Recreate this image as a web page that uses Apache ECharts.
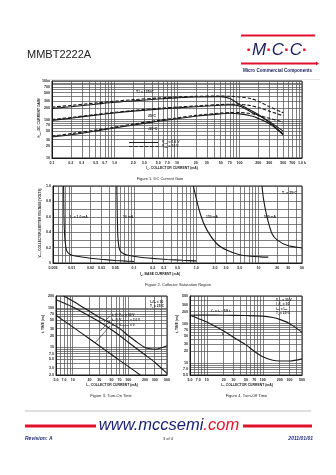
<!DOCTYPE html>
<html>
<head>
<meta charset="utf-8">
<style>
html,body{margin:0;padding:0;background:#fff}
#c{width:336px;height:475px}
</style>
<script src="https://cdn.jsdelivr.net/npm/echarts@6/dist/echarts.min.js"></script>
</head>
<body>
<div id="c"></div>
<script>
// ---------- Figure 1: DC current gain (hFE vs IC) ----------
const gainCurrent = [0.1, 0.2, 0.5, 1, 2, 5, 10, 20, 50, 70, 100, 150, 200, 300, 500];
const gain125Vce1  = [195, 215, 250, 280, 305, 340, 365, 385, 392, 350, 245, 175, 135, 85, 42];
const gain125Vce10 = [210, 232, 268, 298, 328, 362, 385, 400, 405, 400, 385, 350, 300, 215, 150];
const gain25Vce1   = [95, 108, 130, 148, 165, 185, 200, 215, 235, 240, 225, 160, 128, 88, 50];
const gain25Vce10  = [100, 113, 135, 153, 172, 195, 210, 225, 245, 250, 248, 230, 205, 165, 125];
const gainM55Vce1  = [35, 40, 50, 60, 72, 90, 105, 122, 140, 145, 140, 125, 107, 78, 40];
const gainM55Vce10 = [37, 43, 53, 63, 76, 95, 110, 128, 147, 152, 152, 142, 128, 108, 85];
const fig1XTicks = [0.1, 0.2, 0.3, 0.5, 0.7, 1, 2, 3, 5, 7, 10, 20, 30, 50, 70, 100, 200, 300, 500, 700, 1000];
const fig1XText  = ['0.1','0.2','0.3','0.5','0.7','1.0','2.0','3.0','5.0','7.0','10','20','30','50','70','100','200','300','500','700','1.0 k'];
const fig1YTicks = [10, 20, 30, 50, 70, 100, 200, 300, 500, 700, 1000];
const fig1YText  = ['10','20','30','50','70','100','200','300','500','700','1000'];

// ---------- Figure 2: collector saturation region (VCE vs IB) ----------
const sat1mA_IB   = [0.0074, 0.0075, 0.0077, 0.008, 0.0084, 0.0095, 0.012, 0.02, 0.029, 0.05, 0.077, 0.1];
const sat1mA_VCE  = [1.0, 0.6, 0.35, 0.22, 0.15, 0.11, 0.087, 0.062, 0.048, 0.033, 0.024, 0.02];
const sat10mA_IB  = [0.053, 0.054, 0.055, 0.057, 0.06, 0.068, 0.08, 0.126, 0.2, 0.34, 0.6, 1.0];
const sat10mA_VCE = [1.0, 0.6, 0.35, 0.22, 0.16, 0.12, 0.1, 0.075, 0.06, 0.046, 0.035, 0.027];
const sat150mA_IB  = [0.9, 1.16, 1.48, 2.14, 3.12, 5.1, 7.5, 10.7, 14.4];
const sat150mA_VCE = [1.0, 0.64, 0.43, 0.25, 0.165, 0.105, 0.088, 0.08, 0.076];
const sat500mA_IB  = [11.4, 12.1, 13.7, 16.5, 19.9, 28.7, 50];
const sat500mA_VCE = [1.0, 0.82, 0.6, 0.38, 0.3, 0.23, 0.195];
const fig2XTicks = [0.005, 0.01, 0.02, 0.03, 0.05, 0.1, 0.2, 0.3, 0.5, 1, 2, 3, 5, 10, 20, 30, 50];
const fig2XText  = ['0.005','0.01','0.02','0.03','0.05','0.1','0.2','0.3','0.5','1.0','2.0','3.0','5.0','10','20','30','50'];
const fig2YTicks = [0, 0.2, 0.4, 0.6, 0.8, 1.0];
const fig2YText  = ['0','0.2','0.4','0.6','0.8','1.0'];

// ---------- Figure 3: turn-on time ----------
const trIC   = [6.8, 10, 20, 30, 50, 70, 100, 150, 200, 250, 300, 400, 500];
const trTime = [200, 150, 82, 58, 40, 30, 20, 13, 10, 9.2, 9.0, 9.8, 11];
const td2IC   = [5, 10, 20, 30, 50, 70, 100, 200, 300, 500];
const td2Time = [160, 105, 62, 45, 28, 20, 13.5, 6.5, 4.2, 2.2];
const td0IC   = [5, 10, 20, 30, 50, 70, 100, 165];
const td0Time = [65, 33, 16.5, 11, 6.6, 4.7, 3.3, 2.0];
const fig3XTicks = [5, 7, 10, 20, 30, 50, 70, 100, 200, 300, 500];
const fig3XText  = ['5.0','7.0','10','20','30','50','70','100','200','300','500'];
const fig3YTicks = [2, 3, 5, 7, 10, 20, 30, 50, 70, 100, 200];
const fig3YText  = ['2.0','3.0','5.0','7.0','10','20','30','50','70','100','200'];

// ---------- Figure 4: turn-off time ----------
const tsIC   = [5, 10, 20, 50, 100, 150, 200, 300, 500];
const tsTime = [163, 164, 163, 160, 155, 143, 128, 100, 60];
const tfIC   = [5, 7, 10, 20, 30, 50, 70, 100, 150, 200, 300, 500];
const tfTime = [163, 135, 110, 65, 45, 29, 20, 14.5, 11.8, 11.3, 11.3, 12.8];
const fig4XTicks = [5, 7, 10, 20, 30, 50, 70, 100, 200, 300, 500];
const fig4XText  = ['5.0','7.0','10','20','30','50','70','100','200','300','500'];
const fig4YTicks = [5, 7, 10, 20, 30, 50, 70, 100, 200, 300, 500];
const fig4YText  = ['5.0','7.0','10','20','30','50','70','100','200','300','500'];

// ---------- styling helpers ----------
const FONT = '"Liberation Sans", Arial, sans-serif';
const INK = '#1b1b1b';
const GRID = '#555555';
const NAVY = '#1f2a7c';
const RED = '#e3122c';
const TICK_FS = 3.6;

// 1..9 x 10^n grid values inside [lo, hi]
function logGridValues(lo, hi) {
  const out = [];
  for (let e = -4; e <= 4; e++) {
    for (let m = 1; m < 10; m++) {
      const v = +(m * Math.pow(10, e)).toPrecision(6);
      if (v >= lo * 0.9999 && v <= hi * 1.0001) out.push(v);
    }
  }
  return out;
}
// labelled values get their text, the remaining grid positions stay blank
function labelFormatter(vals, texts) {
  return function (v) {
    for (let i = 0; i < vals.length; i++) {
      const t = vals[i];
      if (Math.abs(v - t) <= 1e-6 * Math.max(Math.abs(t), 1e-3)) return texts[i];
    }
    return '';
  };
}
function logAxis(gi, min, max, ticks, texts, isY) {
  const gridVals = logGridValues(min, max);
  return {
    type: 'log', logBase: 10, gridIndex: gi, min: min, max: max,
    axisLine: { show: true, onZero: false, lineStyle: { color: INK, width: 1 } },
    axisTick: { show: false, customValues: gridVals },
    splitLine: { show: true, lineStyle: { color: GRID, width: 0.75 } },
    axisLabel: {
      customValues: gridVals, formatter: labelFormatter(ticks, texts),
      fontSize: TICK_FS, fontFamily: FONT, fontWeight: 'bold', color: INK,
      margin: isY ? 2 : 3, hideOverlap: false
    }
  };
}
function pairs(xs, ys) { return xs.map(function (x, i) { return [x, ys[i]]; }); }
function curve(gi, xs, ys, dashed, smooth) {
  return {
    type: 'line', xAxisIndex: gi, yAxisIndex: gi, data: pairs(xs, ys),
    showSymbol: false, symbol: 'none', smooth: smooth == null ? 0.3 : smooth,
    silent: true, animation: false, clip: true,
    lineStyle: { color: INK, width: 1.1, type: dashed ? [3.5, 1.8] : 'solid' }
  };
}

// text with subscripts written as X_{sub}
function richText(str, size, weight, color, style) {
  const parts = [];
  const re = /_\{([^}]*)\}/g;
  let last = 0, m;
  while ((m = re.exec(str))) {
    if (m.index > last) parts.push('{n|' + str.slice(last, m.index) + '}');
    parts.push('{s|' + m[1] + '}');
    last = re.lastIndex;
  }
  if (last < str.length) parts.push('{n|' + str.slice(last) + '}');
  const base = { fontSize: size, fontFamily: FONT, fontWeight: weight || 'bold', fill: color || INK, fontStyle: style || 'normal' };
  return {
    text: parts.join(''),
    rich: {
      n: Object.assign({}, base),
      s: Object.assign({}, base, { fontSize: size * 0.72, padding: [size * 0.45, 0, 0, 0] })
    },
    fontSize: size, fontFamily: FONT, fontWeight: weight || 'bold', fill: color || INK
  };
}
function txt(x, y, str, opt) {
  opt = opt || {};
  const st = richText(str, opt.size || 3.6, opt.weight, opt.color, opt.style);
  st.align = opt.align || 'left';
  st.verticalAlign = 'middle';
  return { type: 'text', x: x, y: y, rotation: opt.rot || 0, silent: true, style: st, z: 10 };
}
function seg(x1, y1, x2, y2, color, w, dash) {
  return { type: 'line', silent: true, z: 10,
    shape: { x1: x1, y1: y1, x2: x2, y2: y2 },
    style: { stroke: color || INK, lineWidth: w || 1, lineDash: dash || null } };
}

const chart = echarts.init(document.getElementById('c'), null, { renderer: 'canvas' });

const grids = [
  { left: 52, top: 81, width: 250, height: 77 },
  { left: 53, top: 186, width: 249, height: 77 },
  { left: 56, top: 296, width: 111, height: 79 },
  { left: 190, top: 296, width: 112, height: 79 }
].map(function (g) { return Object.assign({ show: true, borderColor: INK, borderWidth: 1, backgroundColor: '#fff' }, g); });

const fig2YGrid = [0, 0.1, 0.2, 0.3, 0.4, 0.5, 0.6, 0.7, 0.8, 0.9, 1.0];
const fig2Y = {
  type: 'value', gridIndex: 1, min: 0, max: 1, interval: 0.1,
  axisLine: { show: true, onZero: false, lineStyle: { color: INK, width: 1 } },
  axisTick: { show: false, customValues: fig2YGrid },
  splitLine: { show: true, lineStyle: { color: GRID, width: 0.75 } },
  axisLabel: { customValues: fig2YGrid, formatter: labelFormatter(fig2YTicks, fig2YText),
    fontSize: TICK_FS, fontFamily: FONT, fontWeight: 'bold', color: INK, margin: 2 }
};

const graphics = [
  // header
  txt(27, 55, 'MMBT2222A', { size: 11, weight: 'normal', color: '#222' }),
  seg(241, 35.5, 315, 35.5, RED, 2.2),
  { type: 'text', x: 277, y: 50, silent: true, style: {
      text: '{d|·}{l|M}{d|·}{l|C}{d|·}{l|C}{d|·}', align: 'center', verticalAlign: 'middle',
      rich: {
        l: { fontSize: 17, fontFamily: FONT, fontStyle: 'italic', fill: '#1a1f5e' },
        d: { fontSize: 17, fontFamily: FONT, fontWeight: 'bold', fill: RED }
      } } },
  seg(241, 63.5, 316, 63.5, RED, 2.2),
  { type: 'polygon', silent: true, shape: { points: [[316, 61.5], [319, 63.5], [316, 65.5]] }, style: { fill: RED } },
  txt(277.5, 70.5, 'Micro Commercial Components', { size: 4.6, align: 'center', color: '#1a1f5e' }),
  seg(47, 79.5, 320, 79.5, '#e6e6e6', 1),

  // figure 1 annotations
  txt(136, 91.5, 'T_{J} = 125°C', { size: 3.6 }),
  txt(148, 115.5, '25°C', { size: 3.6 }),
  txt(148, 128.5, '-55°C', { size: 3.6 }),
  seg(129, 142.5, 158, 142.5, INK, 1),
  seg(129, 146.5, 158, 146.5, INK, 1, [3.5, 1.8]),
  txt(162, 142.5, 'V_{CE} = 1.0 V', { size: 3.4 }),
  txt(162, 146.5, 'V_{CE} = 10 V', { size: 3.4 }),
  txt(39.5, 118, 'h_{FE}, DC CURRENT GAIN', { size: 3.4, align: 'center', rot: Math.PI / 2 }),
  txt(172, 168.5, 'I_{C}, COLLECTOR CURRENT (mA)', { size: 3.4, align: 'center' }),
  txt(160, 179, 'Figure 1. DC Current Gain', { size: 4, align: 'center', weight: 'normal' }),

  // figure 2 annotations
  txt(70, 217, 'I_{C} = 1.0 mA', { size: 3.4 }),
  txt(123, 217, '10 mA', { size: 3.4 }),
  txt(206, 217, '150 mA', { size: 3.4 }),
  txt(264, 217, '500 mA', { size: 3.4 }),
  txt(282, 193, 'T_{J} = 25°C', { size: 3.4 }),
  txt(40, 223, 'V_{CE}, COLLECTOR-EMITTER VOLTAGE (VOLTS)', { size: 3.1, align: 'center', rot: Math.PI / 2 }),
  txt(160, 274.5, 'I_{B}, BASE CURRENT (mA)', { size: 3.4, align: 'center' }),
  txt(178, 284.5, 'Figure 2. Collector Saturation Region', { size: 4, align: 'center', weight: 'normal' }),

  // figure 3 annotations
  txt(150, 302, 'I_{C}/I_{B} = 10', { size: 3.2 }),
  txt(150, 306.5, 'T_{J} = 25°C', { size: 3.2 }),
  txt(112, 315, 't_{r} @ V_{CC} = 30 V', { size: 3.2 }),
  txt(112, 320, 't_{d} @ V_{EB(off)} = 2.0 V', { size: 3.2 }),
  txt(112, 325, 't_{d} @ V_{EB(off)} = 0', { size: 3.2 }),
  seg(110, 316, 104, 322, INK, 0.6),
  seg(110, 321, 100, 331, INK, 0.6),
  seg(110, 326, 95, 343, INK, 0.6),
  txt(43.5, 324, 't, TIME (ns)', { size: 3.4, align: 'center', rot: Math.PI / 2 }),
  txt(112, 385, 'I_{C}, COLLECTOR CURRENT (mA)', { size: 3.4, align: 'center' }),
  txt(111, 396, 'Figure 3. Turn-On Time', { size: 4, align: 'center', weight: 'normal' }),

  // figure 4 annotations
  txt(276, 300, 'V_{CC} = 30 V', { size: 3.2 }),
  txt(276, 304.5, 'I_{C}/I_{B} = 10', { size: 3.2 }),
  txt(276, 309, 'I_{B1} = I_{B2}', { size: 3.2 }),
  txt(276, 313.5, 'T_{J} = 25°C', { size: 3.2 }),
  txt(211, 311, "t'_{s} = t_{s} − 1/8 t_{f}", { size: 3.2 }),
  txt(222, 334, 't_{f}', { size: 3.4 }),
  txt(177, 324, 't, TIME (ns)', { size: 3.4, align: 'center', rot: Math.PI / 2 }),
  txt(247, 385, 'I_{C}, COLLECTOR CURRENT (mA)', { size: 3.4, align: 'center' }),
  txt(246.5, 396, 'Figure 4. Turn-Off Time', { size: 4, align: 'center', weight: 'normal' }),

  // footer
  seg(25, 411, 311, 411, '#d4d4d4', 1.6),
  seg(25, 426, 96, 426, RED, 3),
  seg(243, 426, 312, 426, RED, 3),
  { type: 'text', x: 169, y: 425, silent: true, style: {
      text: '{a|www.mccsemi}{b|.com}', align: 'center', verticalAlign: 'middle',
      rich: {
        a: { fontSize: 16.5, fontFamily: FONT, fontStyle: 'italic', fill: '#1c2270' },
        b: { fontSize: 16.5, fontFamily: FONT, fontStyle: 'italic', fill: RED }
      } } },
  txt(25, 439, 'Revision: A', { size: 5, style: 'italic', color: NAVY }),
  txt(168, 439, '3 of 4', { size: 4, align: 'center', weight: 'normal', color: '#222' }),
  txt(313, 439, '2011/01/01', { size: 5, style: 'italic', color: NAVY, align: 'right' })
];

chart.setOption({
  animation: false,
  backgroundColor: '#fff',
  textStyle: { fontFamily: FONT },
  grid: grids,
  xAxis: [
    logAxis(0, 0.1, 1000, fig1XTicks, fig1XText, false),
    logAxis(1, 0.005, 50, fig2XTicks, fig2XText, false),
    logAxis(2, 5, 500, fig3XTicks, fig3XText, false),
    logAxis(3, 5, 500, fig4XTicks, fig4XText, false)
  ],
  yAxis: [
    logAxis(0, 10, 1000, fig1YTicks, fig1YText, true),
    fig2Y,
    logAxis(2, 2, 200, fig3YTicks, fig3YText, true),
    logAxis(3, 5, 500, fig4YTicks, fig4YText, true)
  ],
  series: [
    curve(0, gainCurrent, gain125Vce1, false),
    curve(0, gainCurrent, gain125Vce10, true),
    curve(0, gainCurrent, gain25Vce1, false),
    curve(0, gainCurrent, gain25Vce10, true),
    curve(0, gainCurrent, gainM55Vce1, false),
    curve(0, gainCurrent, gainM55Vce10, true),
    curve(1, sat1mA_IB, sat1mA_VCE, false, 0.2),
    curve(1, sat10mA_IB, sat10mA_VCE, false, 0.2),
    curve(1, sat150mA_IB, sat150mA_VCE, false, 0.3),
    curve(1, sat500mA_IB, sat500mA_VCE, false, 0.3),
    curve(2, trIC, trTime, false),
    curve(2, td2IC, td2Time, false),
    curve(2, td0IC, td0Time, false),
    curve(3, tsIC, tsTime, false),
    curve(3, tfIC, tfTime, false)
  ],
  graphic: graphics
});
</script>
</body>
</html>
